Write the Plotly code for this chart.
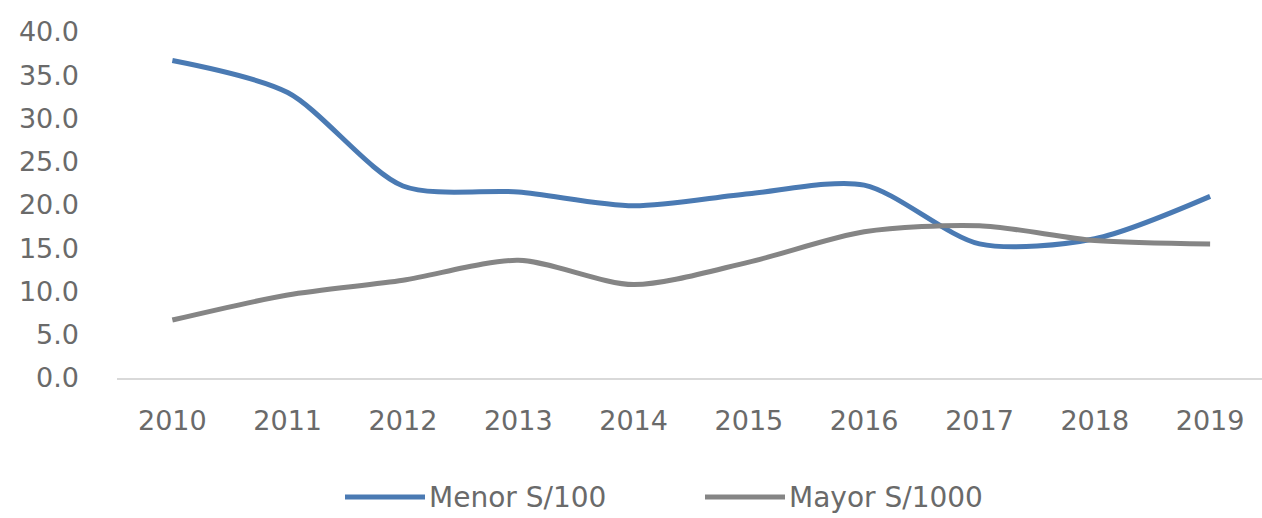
import plotly.graph_objects as go

years = ["2010", "2011", "2012", "2013", "2014", "2015", "2016", "2017", "2018", "2019"]
menor = [36.7, 33.0, 22.2, 21.5, 19.9, 21.3, 22.3, 15.5, 16.1, 21.0]
mayor = [6.7, 9.6, 11.3, 13.6, 10.8, 13.4, 16.9, 17.6, 15.9, 15.5]
series_names = ["Menor S/100", "Mayor S/1000"]
series_colors = ["#4a7ab3", "#858585"]
y_ticks = [0, 5, 10, 15, 20, 25, 30, 35, 40]

FONT = "DejaVu Sans"
TXT = "#6a6a6a"
W, H = 1262, 518
ML, MR, MT, MB = 117, 0, 32, 140
PW, PH = W - ML - MR, H - MT - MB


def px_x(p):
    return (p - ML) / PW


def px_y(p):
    return (H - MB - p) / PH


fig = go.Figure()
for vals, name, col in zip([menor, mayor], series_names, series_colors):
    fig.add_trace(go.Scatter(x=years, y=vals, name=name, mode="lines",
                             line=dict(color=col, width=5, shape="spline", smoothing=0.8)))

# custom legend (long line samples like the reference)
legend_starts = [345, 705]
for start, name, col in zip(legend_starts, series_names, series_colors):
    fig.add_shape(type="line", xref="paper", yref="paper",
                  x0=px_x(start), x1=px_x(start + 80), y0=px_y(497), y1=px_y(497),
                  line=dict(color=col, width=5))
    fig.add_annotation(xref="paper", yref="paper", x=px_x(start + 82), y=px_y(497),
                       xanchor="left", yanchor="middle", text=name, showarrow=False,
                       font=dict(family=FONT, size=28, color=TXT))

fig.update_layout(
    width=W, height=H,
    margin=dict(l=ML, r=MR, t=MT, b=MB),
    paper_bgcolor="white", plot_bgcolor="white",
    font=dict(family=FONT, size=27, color=TXT),
    showlegend=False,
    xaxis=dict(type="category", range=[-0.48, 9.45], showgrid=False, zeroline=False,
               showline=True, linecolor="#d9d9d9", linewidth=2, ticks="",
               ticklabelstandoff=18, tickfont=dict(family=FONT, size=27, color=TXT)),
    yaxis=dict(range=[0, 40], tickvals=y_ticks, tickformat=".1f", showgrid=False,
               zeroline=False, showline=False, ticks="", ticklabelstandoff=37,
               tickfont=dict(family=FONT, size=27, color=TXT)),
)

fig.write_html("out.html", config={"displayModeBar": False},
               post_script="document.body.style.margin='0';document.body.style.overflow='hidden';")
